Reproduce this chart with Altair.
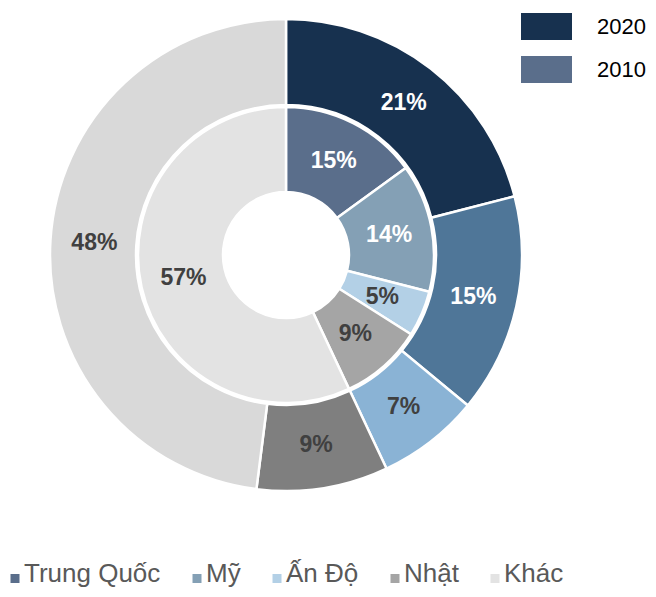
import altair as alt
import pandas as pd

countries = ["Trung Quốc", "Mỹ", "Ấn Độ", "Nhật", "Khác"]
share_2020 = [21, 15, 7, 9, 48]
share_2010 = [15, 14, 5, 9, 57]
years = ["2020", "2010"]

colors_2020 = ["#17314f", "#4f7698", "#8ab3d5", "#7f7f7f", "#d9d9d9"]
colors_2010 = ["#5a6e8b", "#84a0b5", "#b3d0e6", "#a5a5a5", "#e3e3e3"]

rows = []
for i, c in enumerate(countries):
    rows.append({"ring": "2020", "country": c, "idx": i, "value": share_2020[i],
                 "key": "2020|" + c, "label": f"{share_2020[i]}%"})
for i, c in enumerate(countries):
    rows.append({"ring": "2010", "country": c, "idx": i, "value": share_2010[i],
                 "key": "2010|" + c, "label": f"{share_2010[i]}%"})
df = pd.DataFrame(rows)

keys = ["2020|" + c for c in countries] + ["2010|" + c for c in countries]
key_colors = colors_2020 + colors_2010

FONT = "Liberation Sans"
base = alt.Chart(df)

theta = alt.Theta("value:Q", stack=True)
order = alt.Order("idx:Q", sort="ascending")
fill = alt.Color("key:N", scale=alt.Scale(domain=keys, range=key_colors), legend=None)

outer = base.transform_filter("datum.ring == '2020'").mark_arc(
    radius=236, radius2=150, stroke="white", strokeWidth=2.5
).encode(theta=theta, order=order, color=fill)

inner = base.transform_filter("datum.ring == '2010'").mark_arc(
    radius=148, radius2=63, stroke="white", strokeWidth=2.5
).encode(theta=theta, order=order, color=fill)

txt_color = alt.condition(
    "datum.country == 'Trung Quốc' || datum.country == 'Mỹ'",
    alt.value("white"), alt.value("#404040"))

outer_txt = base.transform_filter("datum.ring == '2020'").mark_text(
    radius=192, font=FONT, fontWeight="bold", fontSize=23
).encode(theta=theta, order=order, text="label:N", color=txt_color)

inner_txt = base.transform_filter("datum.ring == '2010'").mark_text(
    radius=105, font=FONT, fontWeight="bold", fontSize=23
).encode(theta=theta, order=order, text="label:N", color=txt_color)

year_df = pd.DataFrame({"year": years})
year_leg = alt.Chart(year_df).mark_square(opacity=0, filled=True).encode(
    color=alt.Color("year:N", sort=years,
                    scale=alt.Scale(domain=years, range=[colors_2020[0], colors_2010[0]]),
                    legend=alt.Legend(
                        title=None, orient="none", legendX=513, legendY=5,
                        direction="vertical",
                        symbolType="M-1,-0.53H1V0.53H-1Z", symbolSize=2601,
                        symbolOpacity=1, symbolStrokeWidth=0,
                        clipHeight=27, rowPadding=16,
                        labelFont=FONT, labelFontSize=22, labelColor="black",
                        labelOffset=25, padding=0))
)

country_df = pd.DataFrame({"country": countries})
country_leg = alt.Chart(country_df).mark_square(opacity=0, filled=True).encode(
    color=alt.Color("country:N", sort=countries,
                    scale=alt.Scale(domain=countries, range=colors_2010),
                    legend=alt.Legend(
                        title=None, orient="none", legendX=-10, legendY=553,
                        direction="horizontal", columns=5, columnPadding=19,
                        symbolType="M-0.11,0H1.89V2H-0.11Z", symbolSize=81,
                        symbolOpacity=1, symbolStrokeWidth=0,
                        labelFont=FONT, labelFontSize=26, labelColor="#595959",
                        labelOffset=0, padding=0))
)

chart = alt.layer(outer, inner, outer_txt, inner_txt, year_leg, country_leg).resolve_scale(
    color="independent"
).properties(
    width=556, height=494,
    autosize=alt.AutoSizeParams(type="none"),
    padding={"left": 0, "top": 0, "right": 84, "bottom": 87},
).configure_view(stroke=None)

chart.save("out.html", embed_options={"renderer": "svg", "actions": False})
